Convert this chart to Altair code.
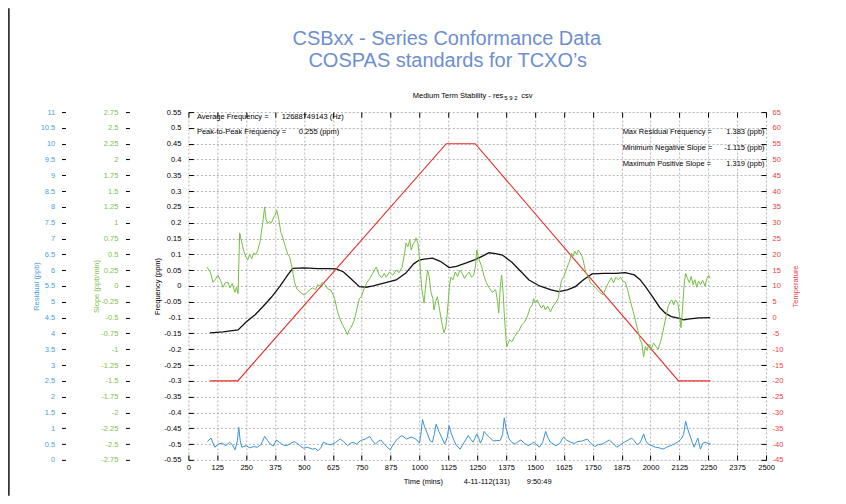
import altair as alt
import pandas as pd

FONT = "Liberation Sans"

TITLE_1 = "CSBxx - Series Conformance Data"
TITLE_2 = "COSPAS standards for TCXO\u2019s"
SUBTITLE = "Medium Term Stability - res"
SUB_NUM = "5 9 2"
SUB_EXT = "csv"

X_TICKS = [i * 125 for i in range(21)]
FREQ_TICKS = [round(-0.55 + 0.05 * i, 2) for i in range(23)]
SLOPE_TICKS = [round(-2.75 + 0.25 * i, 2) for i in range(23)]
RESID_TICKS = [round(0.5 * i, 1) for i in range(23)]
TEMP_TICKS = [-45 + 5 * i for i in range(23)]

# Frequency (ppm) - black
FREQ_T = [93, 150, 215, 251, 290, 323, 360, 395, 430, 452,
          500, 560, 610, 640, 670, 700, 740, 769, 800, 850,
          899, 940, 975, 999, 1020, 1057, 1090, 1129, 1160, 1200,
          1244, 1275, 1301, 1330, 1359, 1400, 1440, 1474, 1520, 1570,
          1603, 1640, 1675, 1710, 1747, 1800, 1850, 1891, 1930, 1955,
          1978, 2010, 2040, 2064, 2090, 2121, 2143, 2170, 2210, 2258]
FREQ = [-0.148, -0.145, -0.139, -0.113, -0.090, -0.065, -0.035, -0.002, 0.035, 0.056,
        0.057, 0.055, 0.055, 0.054, 0.045, 0.025, -0.002, -0.004, 0.000, 0.010,
        0.019, 0.040, 0.070, 0.082, 0.085, 0.088, 0.078, 0.058, 0.062, 0.072,
        0.084, 0.095, 0.105, 0.102, 0.098, 0.075, 0.045, 0.019, 0.000, -0.012,
        -0.018, -0.012, -0.002, 0.020, 0.038, 0.040, 0.040, 0.042, 0.035, 0.020,
        -0.002, -0.035, -0.068, -0.086, -0.097, -0.102, -0.107, -0.104, -0.101, -0.100]

# Temperature - red
TEMP_T = [93, 214, 1116, 1241, 2121, 2259]
TEMP = [-20, -20, 55, 55, -20, -20]

# Slope (ppb/min) - green
SLOPE_T = [80, 95, 106, 115, 128, 140, 150, 160, 171, 180, 190, 201, 208, 215, 222,
           230, 240, 250, 257, 265, 274, 282, 292, 300, 310, 320, 330, 336, 343, 350,
           360, 368, 375, 382, 390, 400, 408, 420, 430, 438, 448, 460, 470, 480, 490,
           503, 515, 525, 537, 550, 560, 570, 580, 592, 605, 615, 623, 633, 645, 653,
           665, 677, 688, 695, 705, 718, 730, 740, 748, 760, 772, 785, 798, 813, 825,
           836, 848, 856, 870, 885, 899, 912, 925, 935, 942, 950, 958, 964, 972, 980,
           985, 993, 998, 1003, 1010, 1020, 1028, 1035, 1042, 1050, 1058, 1063, 1070, 1078, 1086,
           1095, 1106, 1114, 1120, 1130, 1136, 1145, 1155, 1165, 1175, 1185, 1195, 1205, 1215, 1225,
           1235, 1242, 1248, 1255, 1262, 1270, 1280, 1290, 1300, 1315, 1330, 1338, 1343, 1350, 1356,
           1362, 1368, 1374, 1378, 1390, 1400, 1412, 1422, 1432, 1442, 1452, 1460, 1470, 1478, 1488,
           1494, 1502, 1510, 1520, 1528, 1537, 1545, 1555, 1567, 1578, 1589, 1600, 1610, 1615, 1625,
           1635, 1645, 1652, 1658, 1665, 1672, 1680, 1688, 1696, 1705, 1712, 1720, 1730, 1740, 1750,
           1760, 1770, 1780, 1795, 1805, 1815, 1830, 1840, 1850, 1860, 1870, 1880, 1891, 1900, 1915,
           1925, 1935, 1945, 1955, 1962, 1970, 1978, 1985, 1993, 2003, 2013, 2022, 2033, 2040, 2046,
           2055, 2066, 2076, 2085, 2092, 2100, 2108, 2118, 2125, 2132, 2138, 2145, 2152, 2160, 2168,
           2176, 2184, 2192, 2200, 2208, 2216, 2226, 2236, 2244, 2252, 2258]
SLOPE = [0.30, 0.22, 0.06, 0.10, 0.17, 0.08, -0.02, 0.05, 0.06, -0.03, 0.04, -0.10, -0.02, -0.12, 0.84,
         0.70, 0.55, 0.45, 0.41, 0.50, 0.43, 0.52, 0.50, 0.56, 0.70, 0.95, 1.25, 1.05, 0.99, 1.02,
         1.00, 1.08, 1.12, 1.20, 1.08, 0.85, 0.77, 0.62, 0.50, 0.46, 0.30, 0.05, -0.05, -0.08, -0.12,
         -0.14, -0.10, -0.06, -0.03, -0.06, 0.02, 0.00, 0.06, 0.02, -0.05, -0.06, -0.11, -0.20, -0.40, -0.49,
         -0.60, -0.68, -0.77, -0.70, -0.65, -0.54, -0.35, -0.20, -0.17, -0.05, 0.05, 0.12, 0.20, 0.30, 0.18,
         0.13, 0.20, 0.14, 0.22, 0.17, 0.25, 0.21, 0.30, 0.50, 0.68, 0.62, 0.73, 0.57, 0.66, 0.70,
         0.76, 0.68, 0.52, 0.30, -0.05, -0.27, 0.05, 0.25, 0.15, -0.10, -0.20, -0.38, -0.25, -0.17, -0.35,
         -0.55, -0.74, -0.65, -0.45, 0.00, 0.14, 0.10, 0.22, 0.15, 0.25, 0.20, 0.12, 0.18, 0.22, 0.14,
         0.17, 0.30, 0.57, 0.45, 0.38, 0.30, 0.15, 0.05, -0.02, -0.10, -0.06, -0.25, -0.43, 0.00, 0.17,
         -0.10, -0.50, -0.80, -0.96, -0.85, -0.88, -0.80, -0.74, -0.70, -0.62, -0.58, -0.54, -0.45, -0.35, -0.30,
         -0.20, -0.27, -0.22, -0.30, -0.35, -0.30, -0.38, -0.32, -0.41, -0.32, -0.27, -0.20, 0.00, 0.09, 0.15,
         0.25, 0.35, 0.42, 0.52, 0.47, 0.55, 0.50, 0.57, 0.52, 0.46, 0.35, 0.21, 0.15, 0.05, 0.02,
         -0.02, -0.06, -0.10, -0.14, -0.05, 0.03, 0.13, 0.05, 0.14, 0.10, 0.14, 0.08, 0.06, -0.05, -0.27,
         -0.40, -0.55, -0.70, -0.85, -0.90, -1.12, -0.95, -1.02, -0.92, -1.00, -0.90, -0.95, -1.00, -0.92, -0.85,
         -0.70, -0.50, -0.33, -0.25, -0.22, -0.30, -0.22, -0.27, -0.45, -0.66, -0.40, 0.00, 0.20, 0.12, 0.05,
         0.15, 0.02, 0.10, -0.02, 0.08, 0.02, 0.09, 0.00, 0.12, 0.17, 0.12]

# Residual (ppb) - blue
RESID_T = [82, 98, 114, 130, 146, 162, 178, 190, 202, 212, 218, 224, 231, 250, 266, 282, 298, 314, 330,
           342, 354, 368, 381, 395, 410, 426, 442, 458, 475, 497, 515, 537, 550, 561, 573, 585, 600,
           617, 637, 657, 672, 689, 700, 713, 728, 745, 765, 785, 797, 809, 821, 833, 850, 873, 888,
           904, 924, 944, 964, 984, 1000, 1006, 1013, 1022, 1035, 1046, 1056, 1064, 1072, 1084, 1096,
           1109, 1120, 1128, 1137, 1147, 1160, 1176, 1193, 1211, 1222, 1232, 1240, 1248, 1256, 1264,
           1272, 1280, 1291, 1303, 1319, 1335, 1350, 1360, 1367, 1375, 1388, 1400, 1415, 1427, 1439,
           1455, 1471, 1483, 1495, 1507, 1519, 1533, 1546, 1556, 1567, 1579, 1591, 1607, 1623, 1638,
           1654, 1670, 1686, 1706, 1726, 1742, 1758, 1774, 1790, 1806, 1822, 1838, 1854, 1870, 1886,
           1902, 1918, 1930, 1942, 1956, 1970, 1980, 1990, 2006, 2022, 2038, 2054, 2070, 2086, 2102,
           2117, 2133, 2143, 2152, 2162, 2173, 2181, 2189, 2197, 2205, 2216, 2226, 2237, 2249, 2261]
RESID = [0.58, 0.69, 0.40, 0.50, 0.53, 0.45, 0.56, 0.48, 0.32, 0.60, 1.03, 0.62, 0.40, 0.45, 0.38, 0.42,
         0.40, 0.48, 0.74, 0.62, 0.50, 0.44, 0.63, 0.55, 0.47, 0.45, 0.52, 0.58, 0.50, 0.37, 0.40,
         0.34, 0.36, 0.29, 0.38, 0.56, 0.50, 0.48, 0.55, 0.66, 0.58, 0.45, 0.52, 0.56, 0.50, 0.61,
         0.66, 0.74, 0.60, 0.50, 0.58, 0.63, 0.48, 0.32, 0.50, 0.66, 0.77, 0.66, 0.72, 0.66, 0.53,
         0.80, 1.28, 1.05, 0.82, 0.60, 0.56, 0.80, 1.13, 0.90, 0.72, 0.50, 0.70, 1.08, 0.85, 0.66,
         0.45, 0.34, 0.55, 0.77, 0.65, 0.56, 0.68, 0.82, 0.70, 0.53, 0.66, 0.90, 0.80, 0.72, 0.60,
         0.61, 0.62, 0.80, 1.33, 1.00, 0.66, 0.55, 0.50, 0.58, 0.63, 0.52, 0.45, 0.50, 0.56, 0.48,
         0.40, 0.55, 0.90, 0.70, 0.56, 0.50, 0.45, 0.52, 0.72, 0.62, 0.56, 0.52, 0.58, 0.60, 0.66,
         0.52, 0.42, 0.48, 0.50, 0.56, 0.63, 0.52, 0.40, 0.48, 0.56, 0.62, 0.69, 0.60, 0.48, 0.55,
         0.82, 0.60, 0.50, 0.45, 0.40, 0.38, 0.34, 0.40, 0.45, 0.50, 0.56, 0.66, 0.80, 1.22, 0.95,
         0.72, 0.55, 0.40, 0.55, 0.69, 0.34, 0.52, 0.56, 0.52, 0.50]

ANNOTATIONS_LEFT = [("Average Frequency =", "12688749143 (Hz)"),
                    ("Peak-to-Peak Frequency =", "0.255 (ppm)")]
ANNOTATIONS_RIGHT = [("Max Residual Frequency =", "1.383 (ppb)"),
                     ("Minimum Negative Slope =", "-1.115 (ppb)"),
                     ("Maximum Positive Slope =", "1.319 (ppb)")]

NB = "\u00a0"
X_TITLE = "Time (mins)" + NB * 10 + "4-11-112(131)" + NB * 8 + "9:50:49"

BLACK = "#111111"
RED = "#ee2a2a"
RED_LABEL = "#f23c3c"
GREEN = "#74be45"
GREEN_LABEL = "#7cc24c"
BLUE = "#3a91d6"
BLUE_LABEL = "#4aa0e0"
TITLE_BLUE = "#6e8ed0"

W, H = 578, 348
XSCALE = alt.Scale(domain=[0, 2500], nice=False, zero=False)
LBL = "'' + datum.value"

freq_df = pd.DataFrame({"t": FREQ_T, "v": FREQ})
temp_df = pd.DataFrame({"t": TEMP_T, "v": TEMP})
slope_df = pd.DataFrame({"t": SLOPE_T, "v": SLOPE})
resid_df = pd.DataFrame({"t": RESID_T, "v": RESID})

freq = alt.Chart(freq_df).mark_line(color=BLACK, strokeWidth=1.3).encode(
    x=alt.X("t:Q", scale=XSCALE,
            axis=alt.Axis(orient="bottom", offset=-5, tickSize=5, values=X_TICKS,
                          labelExpr=LBL, labelFlush=False, labelOverlap=False,
                          labelPadding=4, grid=True, title=X_TITLE, titlePadding=6)),
    y=alt.Y("v:Q", scale=alt.Scale(domain=[-0.55, 0.55], nice=False, zero=False),
            axis=alt.Axis(orient="left", offset=-5, tickSize=5, values=FREQ_TICKS,
                          labelExpr=LBL, labelOverlap=False, labelPadding=7.5,
                          grid=True, title="Frequency (ppm)", titlePadding=2)),
)

temp = alt.Chart(temp_df).mark_line(color=RED, strokeWidth=1.1).encode(
    x=alt.X("t:Q", scale=XSCALE,
            axis=alt.Axis(orient="top", offset=-5, tickSize=5, values=X_TICKS,
                          labels=False, grid=False, title=None)),
    y=alt.Y("v:Q", scale=alt.Scale(domain=[-45, 65], nice=False, zero=False),
            axis=alt.Axis(orient="right", offset=-5, tickSize=5, values=TEMP_TICKS,
                          labelExpr=LBL, labelOverlap=False, labelPadding=6,
                          labelColor=RED_LABEL, grid=False, title="Temperature",
                          titleColor=RED_LABEL, titleAngle=270, titlePadding=17)),
)

slope = alt.Chart(slope_df).mark_line(color=GREEN, strokeWidth=1).encode(
    x=alt.X("t:Q", scale=XSCALE, axis=None),
    y=alt.Y("v:Q", scale=alt.Scale(domain=[-2.75, 2.75], nice=False, zero=False),
            axis=alt.Axis(orient="left", offset=59, tickSize=4, values=SLOPE_TICKS,
                          labelExpr=LBL, labelOverlap=False, labelPadding=7.5,
                          labelColor=GREEN_LABEL, grid=False, title="Slope (ppb/min)",
                          titleColor=GREEN_LABEL, titlePadding=0)),
)

resid = alt.Chart(resid_df).mark_line(color=BLUE, strokeWidth=1).encode(
    x=alt.X("t:Q", scale=XSCALE, axis=None),
    y=alt.Y("v:Q", scale=alt.Scale(domain=[0, 11], nice=False, zero=False),
            axis=alt.Axis(orient="left", offset=123, tickSize=4, values=RESID_TICKS,
                          labelExpr=LBL, labelOverlap=False, labelPadding=6.7,
                          labelColor=BLUE_LABEL, grid=False, title="Residual (ppb)",
                          titleColor=BLUE_LABEL, titlePadding=0)),
)


def label(text, x, y, size=7.5, color="#000", align="left", font=FONT):
    return alt.Chart(pd.DataFrame({"s": [text]})).mark_text(
        align=align, baseline="middle", fontSize=size, color=color, font=font
    ).encode(x=alt.value(x), y=alt.value(y), text="s:N")


texts = [
    label(TITLE_1, 258.5, -73, size=20, color=TITLE_BLUE, align="center"),
    label(TITLE_2, 259.5, -51, size=20, color=TITLE_BLUE, align="center"),
    label(SUBTITLE, 224.5, -16, size=7.5),
    label(SUB_NUM, 316, -14, size=6),
    label(SUB_EXT, 333, -16, size=7.5),
    label(ANNOTATIONS_LEFT[0][0], 8.5, 5),
    label(ANNOTATIONS_LEFT[0][1], 93.5, 5),
    label(ANNOTATIONS_LEFT[1][0], 8.5, 20),
    label(ANNOTATIONS_LEFT[1][1], 110.5, 20),
]
for i, (a, b) in enumerate(ANNOTATIONS_RIGHT):
    yy = [20, 35.5, 52][i]
    texts.append(label(a, 434.5, yy))
    texts.append(label(b, 576.5, yy, align="right"))

frame = alt.Chart(pd.DataFrame({"s": [0]})).mark_rule(color="#333333", strokeWidth=2.5).encode(
    x=alt.value(-180), y=alt.value(-104), y2=alt.value(384)
)

chart = alt.layer(freq, temp, slope, resid, frame, *texts).resolve_scale(
    x="independent", y="independent"
).properties(
    width=W, height=H,
    autosize=alt.AutoSizeParams(type="none"),
    padding={"left": 180.5, "top": 104, "right": 72, "bottom": 36},
).configure_view(stroke=None).configure_axis(
    labelFont=FONT, titleFont=FONT, labelFontSize=7.5, titleFontSize=7.5,
    titleFontWeight="normal", domain=False, tickColor="#000", labelColor="#000",
    titleColor="#000", gridColor="#a0a0a0", gridDash=[2, 2], gridWidth=0.8,
)

chart.save("out.html", embed_options={"renderer": "svg", "actions": False})
